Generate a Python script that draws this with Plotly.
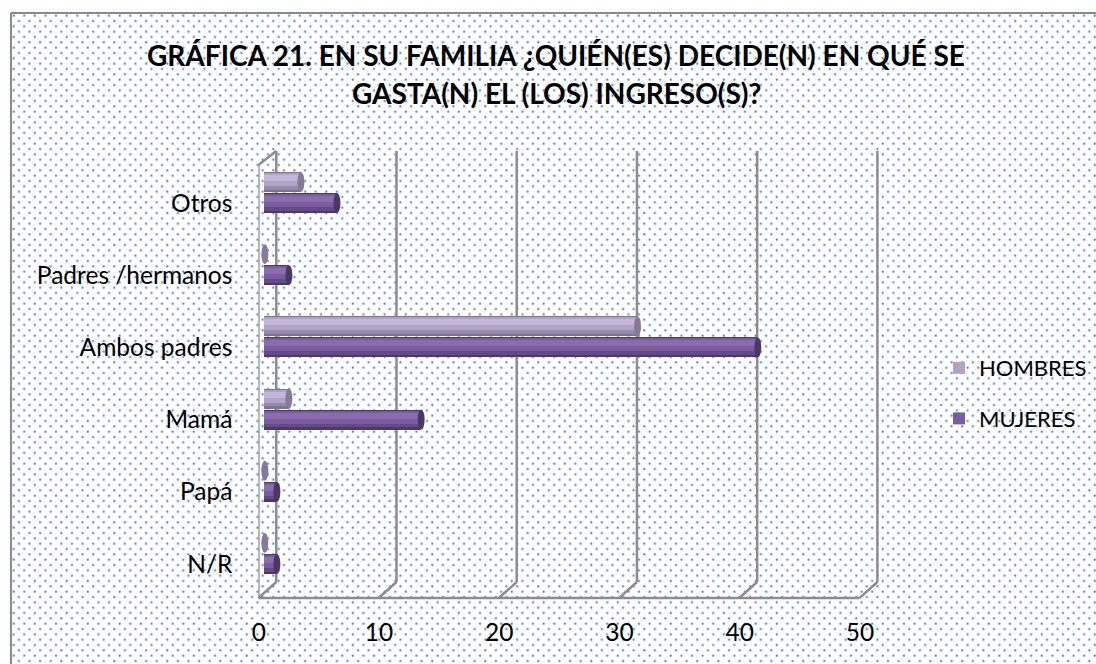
import base64
import plotly.graph_objects as go

# ---------------- data ----------------
categories = ["N/R", "Papá", "Mamá", "Ambos padres", "Padres /hermanos", "Otros"]
hombres = [0, 0, 2, 31, 0, 3]
mujeres = [1, 1, 13, 41, 2, 6]
x_ticks = [0, 10, 20, 30, 40, 50]
series_names = ["HOMBRES", "MUJERES"]
title_lines = ["GRÁFICA 21. EN SU FAMILIA ¿QUIÉN(ES) DECIDE(N) EN QUÉ SE",
               "GASTA(N) EL (LOS) INGRESO(S)?"]

# ---------------- geometry ----------------
W, H = 1096, 664
FONT = "Lato"
OX = -4                # global horizontal correction
x0_px = 263.5 + OX     # pixel of value 0 (bar plane)
ppu = 12.1             # pixels per unit on x
dom_l, dom_r = 257 + OX, 882 + OX
top_px, bot_px = 151, 598
cat_px = 72.2
xr = [(dom_l - x0_px) / ppu, (dom_r - x0_px) / ppu]
ytop = 5 + (203 - top_px) / cat_px
ybot = 5 - (bot_px - 203) / cat_px


def py(px):
    return 1 - px / H


def pxx(px):
    return (px + OX) / W


front = -6.5 / ppu
back = 11.5 / ppu
bw = 20 / cat_px

fig = go.Figure()

# cylinder shading bands (fraction from bottom, fraction to top, colour)
bands_h = [(0.0, 1.0, "#7d7290"), (0.12, 0.88, "#978aaa"), (0.3, 0.95, "#b3a2c7"),
           (0.55, 0.85, "#c4b6d8")]
bands_m = [(0.0, 1.0, "#4b3963"), (0.12, 0.9, "#634b85"), (0.3, 0.95, "#7a5c9e"),
           (0.55, 0.85, "#8a6daf")]


def cylinder(vals, center, bands, name, rank, legend_band):
    lo = center - bw / 2
    for k, (f0, f1, col) in enumerate(bands):
        show = (k == legend_band)
        fig.add_trace(go.Bar(y=categories, x=vals, orientation="h", base=0,
                             offset=lo + bw * f0, width=bw * (f1 - f0),
                             marker=dict(color=col, line=dict(width=0)),
                             name=name, legendgroup=name, legendrank=rank,
                             showlegend=show, hoverinfo="x+y" if show else "skip"))


h_center = 21 / cat_px
cylinder(hombres, h_center, bands_h, series_names[0], 1, 2)
cylinder(mujeres, 0.0, bands_m, series_names[1], 2, 2)

shapes = []
# chart-area border
shapes.append(dict(type="line", xref="paper", yref="paper", x0=pxx(8), x1=1, y0=py(13), y1=py(13),
                   line=dict(color="#898989", width=2), layer="above"))
shapes.append(dict(type="line", xref="paper", yref="paper", x0=pxx(8), x1=pxx(8), y0=py(13), y1=0,
                   line=dict(color="#898989", width=2), layer="above"))

grid = dict(color="#8c8c8c", width=2.5)
for v in x_ticks:
    shapes.append(dict(type="line", xref="x", yref="paper", x0=v + back, x1=v + back,
                       y0=py(582), y1=py(151), line=grid, layer="below"))
    shapes.append(dict(type="line", xref="x", yref="paper", x0=v + front, x1=v + back,
                       y0=py(598), y1=py(582), line=grid, layer="below"))
shapes.append(dict(type="line", xref="x", yref="paper", x0=x_ticks[0] + front, x1=x_ticks[-1] + front,
                   y0=py(598), y1=py(598), line=grid, layer="below"))
shapes.append(dict(type="line", xref="x", yref="paper", x0=x_ticks[0] + front, x1=x_ticks[0] + front,
                   y0=py(598), y1=py(165), line=grid, layer="below"))
shapes.append(dict(type="line", xref="x", yref="paper", x0=x_ticks[0] + front, x1=x_ticks[0] + back,
                   y0=py(165), y1=py(151), line=grid, layer="below"))

# cylinder end caps
for vals, center, col in [(hombres, h_center, "#857a98"), (mujeres, 0.0, "#4a3864")]:
    for i, v in enumerate(vals):
        shapes.append(dict(type="circle", xref="x", yref="y", xsizemode="pixel", xanchor=v,
                           x0=-3.5, x1=3.5, y0=i + center - bw / 2, y1=i + center + bw / 2,
                           fillcolor=col, line=dict(width=0), layer="above"))

# dotted background pattern
svg = ("<svg xmlns='http://www.w3.org/2000/svg' width='1100' height='651' viewBox='0 0 1100 651'>"
       "<defs><pattern id='p' width='10.667' height='10.667' patternUnits='userSpaceOnUse'>"
       "<circle cx='2.7' cy='2.7' r='1.4' fill='#bcd1f0'/><circle cx='2.7' cy='2.7' r='0.95' fill='#4d7fc8'/>"
       "<circle cx='8.0' cy='8.0' r='1.4' fill='#bcd1f0'/><circle cx='8.0' cy='8.0' r='0.95' fill='#4d7fc8'/>"
       "</pattern></defs><rect width='1100' height='651' fill='white'/>"
       "<rect width='1100' height='651' fill='url(#p)'/></svg>")
src = "data:image/svg+xml;base64," + base64.b64encode(svg.encode()).decode()

annotations = [
    dict(text="<b>%s</b>" % title_lines[0], xref="paper", yref="paper", x=pxx(557), y=py(55),
         xanchor="center", yanchor="middle", showarrow=False, font=dict(family=FONT, size=28, color="black")),
    dict(text="<b>%s</b>" % title_lines[1], xref="paper", yref="paper", x=pxx(557), y=py(93),
         xanchor="center", yanchor="middle", showarrow=False, font=dict(family=FONT, size=28, color="black")),
]

fig.update_layout(
    width=W, height=H, margin=dict(l=0, r=0, t=0, b=0),
    paper_bgcolor="white", plot_bgcolor="rgba(0,0,0,0)",
    barmode="overlay", bargap=0,
    font=dict(family=FONT, size=24.5, color="black"),
    xaxis=dict(domain=[dom_l / W, dom_r / W], range=xr, tickvals=x_ticks, showgrid=False,
               zeroline=False, showline=False, ticks="", ticklabelshift=-6,
               ticklabelstandoff=17, fixedrange=True, tickfont=dict(size=24.5)),
    yaxis=dict(domain=[py(bot_px), py(top_px)], range=[ybot, ytop], type="category",
               categoryorder="array", categoryarray=categories, showgrid=False,
               zeroline=False, showline=False, ticks="", ticklabelstandoff=25, fixedrange=True,
               tickfont=dict(size=24.5)),
    legend=dict(x=pxx(942), y=py(347), xanchor="left", yanchor="top", bgcolor="rgba(0,0,0,0)",
                font=dict(family=FONT, size=22), tracegroupgap=19, traceorder="grouped",
                itemwidth=30),
    shapes=shapes, annotations=annotations,
    images=[dict(source=src, xref="paper", yref="paper", x=pxx(8), y=py(13), sizex=1100 / W,
                 sizey=651 / H, xanchor="left", yanchor="top", sizing="stretch", layer="below")],
)

fig.write_html("out.html", config={"displayModeBar": False},
               post_script="document.body.style.margin='0';document.body.style.overflow='hidden';")
